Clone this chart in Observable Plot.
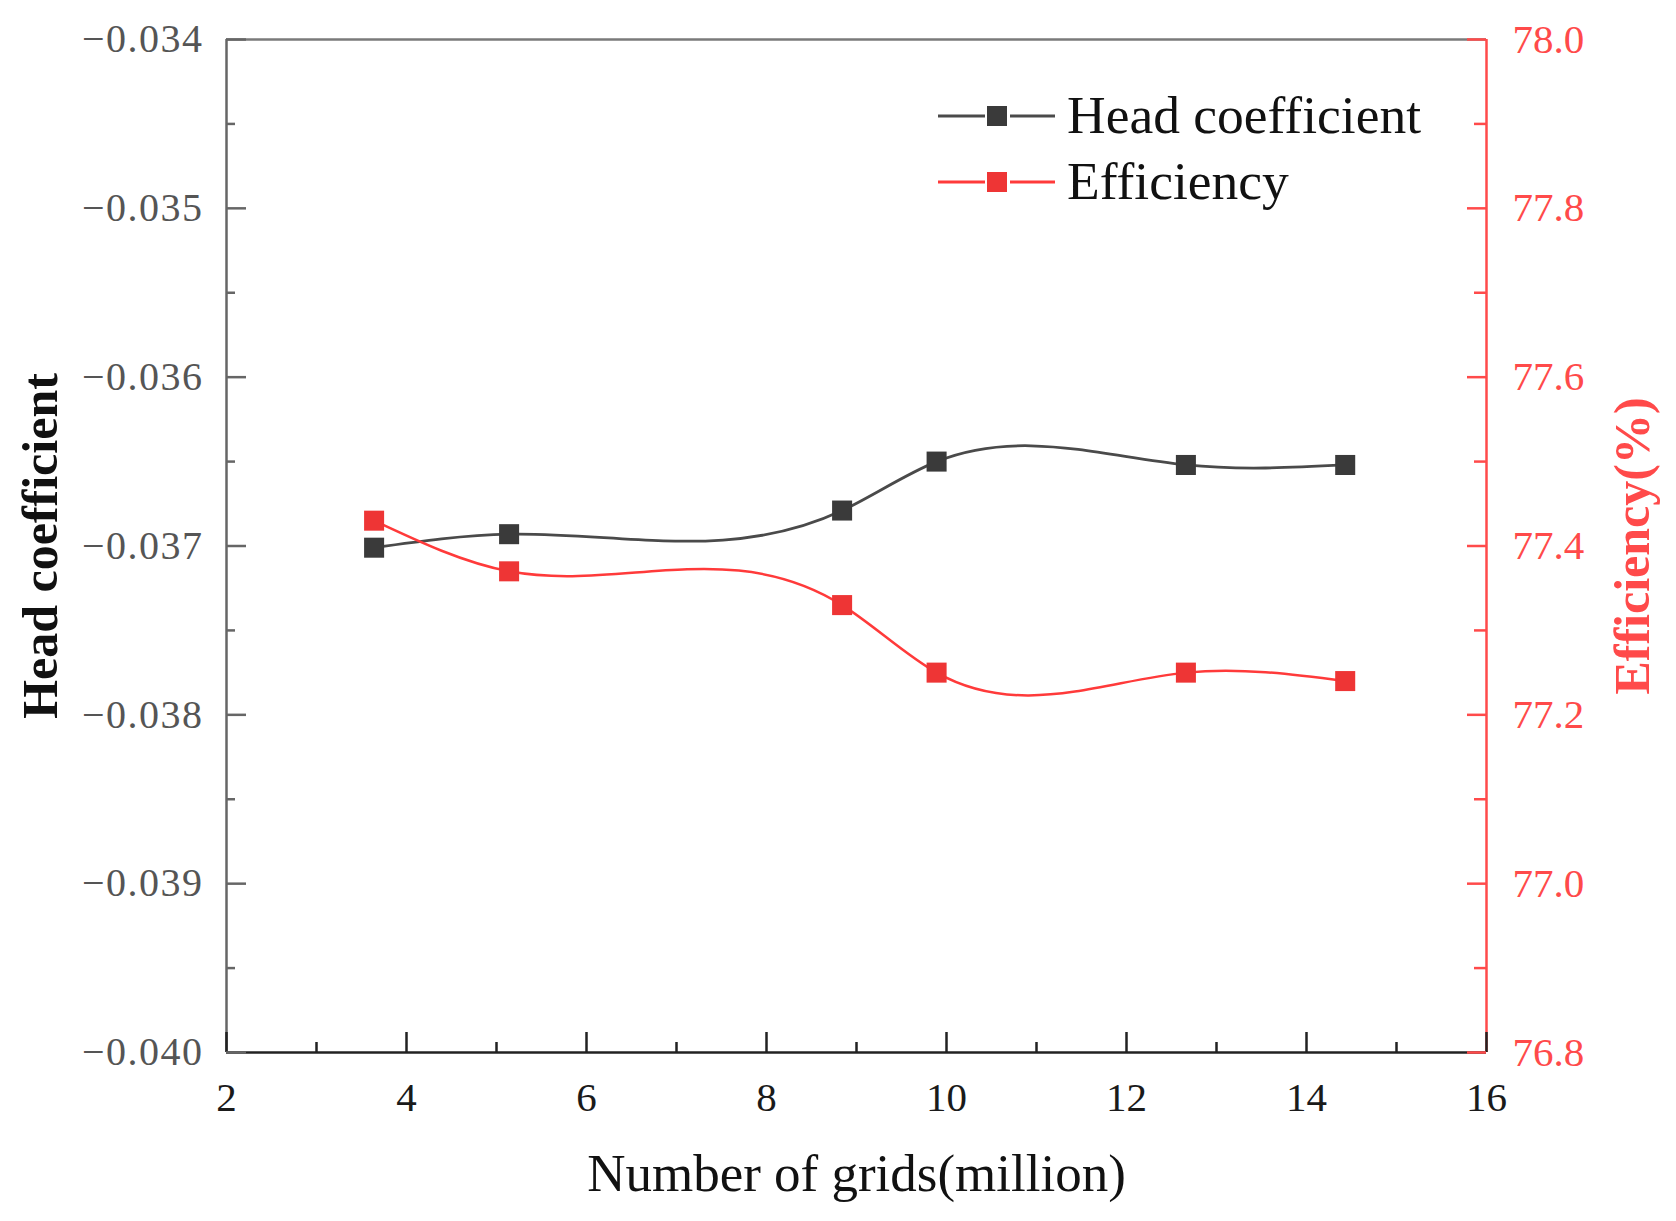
<!DOCTYPE html>
<html><head><meta charset="utf-8">
<script src="https://cdn.jsdelivr.net/npm/d3@7"></script>
<script src="https://cdn.jsdelivr.net/npm/@observablehq/plot@0.6"></script>
<style>
html,body{margin:0;padding:0;background:#fff;}
#wrap{position:relative;width:1676px;height:1221px;}
#legend{position:absolute;left:0;top:0;pointer-events:none;}
</style></head><body><div id="wrap"></div>
<script>
// ---- data ----
const grids = [3.64, 5.14, 8.84, 9.89, 12.66, 14.43];
const headCoef = [-0.03701, -0.03693, -0.03679, -0.03650, -0.03652, -0.03652];
const efficiency = [77.43, 77.37, 77.33, 77.25, 77.25, 77.24];
const seriesNames = ["Head coefficient", "Efficiency"];
const xMajorTicks = [2, 4, 6, 8, 10, 12, 14, 16];
const xMinorTicks = [3, 5, 7, 9, 11, 13, 15];
const headMajorTicks = [-0.040, -0.039, -0.038, -0.037, -0.036, -0.035, -0.034];
const headMinorTicks = [-0.0395, -0.0385, -0.0375, -0.0365, -0.0355, -0.0345];
const effMajorTicks = [76.8, 77.0, 77.2, 77.4, 77.6, 77.8, 78.0];
const effMinorTicks = [76.9, 77.1, 77.3, 77.5, 77.7, 77.9];
const xDomain = [2, 16];
const headDomain = [-0.040, -0.034];
const effDomain = [76.8, 78.0];
const xTitle = "Number of grids(million)";
const yTitle = "Head coefficient";
const y2Title = "Efficiency(%)";

// ---- styles ----
const W = 1676, H = 1221;
const mL = 226, mR = 190, mT = 39, mB = 169;
const innerW = W - mL - mR, innerH = H - mT - mB;
const FONT = "'Liberation Serif', 'Times New Roman', serif";
const BLACK_LINE = "#4a4a4a", BLACK_MARK = "#3a3a3a";
const RED_LINE = "#ff3a3a", RED_MARK = "#ee3535", RED_AXIS = "#ff4a4a";
const GRAY_AXIS = "#666";
const LEFT_LABEL = "#555";

// natural cubic spline y(x) curve (Origin-style "Spline" connector)
function curveSplineX(context) {
  let xs = [], ys = [];
  return {
    areaStart() {}, areaEnd() {},
    lineStart() { xs = []; ys = []; },
    point(x, y) { xs.push(+x); ys.push(+y); },
    lineEnd() {
      const n = xs.length;
      if (!n) return;
      context.moveTo(xs[0], ys[0]);
      if (n === 1) return;
      if (n === 2) { context.lineTo(xs[1], ys[1]); return; }
      const h = [];
      for (let i = 0; i < n - 1; i++) h.push(xs[i + 1] - xs[i]);
      const a = [], b = [], c = [], r = [];
      for (let i = 1; i < n - 1; i++) {
        a.push(h[i - 1]); b.push(2 * (h[i - 1] + h[i])); c.push(h[i]);
        r.push(6 * ((ys[i + 1] - ys[i]) / h[i] - (ys[i] - ys[i - 1]) / h[i - 1]));
      }
      const m = n - 2;
      for (let i = 1; i < m; i++) {
        const w = a[i] / b[i - 1];
        b[i] -= w * c[i - 1];
        r[i] -= w * r[i - 1];
      }
      const Mi = new Array(m);
      Mi[m - 1] = r[m - 1] / b[m - 1];
      for (let i = m - 2; i >= 0; i--) Mi[i] = (r[i] - c[i] * Mi[i + 1]) / b[i];
      const M = [0, ...Mi, 0];
      for (let i = 0; i < n - 1; i++) {
        const hi = h[i], s = (ys[i + 1] - ys[i]) / hi;
        const d0 = s - hi * (2 * M[i] + M[i + 1]) / 6;
        const d1 = s + hi * (M[i] + 2 * M[i + 1]) / 6;
        context.bezierCurveTo(xs[i] + hi / 3, ys[i] + hi * d0 / 3, xs[i + 1] - hi / 3, ys[i + 1] - hi * d1 / 3, xs[i + 1], ys[i + 1]);
      }
    }
  };
}

const toLeft = d3.scaleLinear(effDomain, headDomain);
const headData = grids.map((g, i) => ({g, v: headCoef[i]}));
const effData = grids.map((g, i) => ({g, v: toLeft(efficiency[i])}));

const chart = Plot.plot({
  width: W, height: H,
  marginLeft: mL, marginRight: mR, marginTop: mT, marginBottom: mB,
  style: {fontFamily: FONT, background: "#fff"},
  x: {domain: xDomain, axis: null},
  y: {domain: headDomain, axis: null},
  marks: [
    // frame
    Plot.ruleY([headDomain[1]], {stroke: "#7a7a7a", strokeWidth: 2.5}),
    Plot.ruleX([xDomain[0]], {stroke: GRAY_AXIS, strokeWidth: 2.5}),
    Plot.ruleX([xDomain[1]], {stroke: RED_AXIS, strokeWidth: 2.5}),
    Plot.ruleY([headDomain[0]], {stroke: "#222", strokeWidth: 2.5}),
    // inward ticks
    Plot.tickX(xMajorTicks, {x: d => d, insetTop: innerH - 20, stroke: "#222", strokeWidth: 2.5}),
    Plot.tickX(xMinorTicks, {x: d => d, insetTop: innerH - 10, stroke: "#222", strokeWidth: 2.5}),
    Plot.tickY(headMajorTicks, {y: d => d, insetRight: innerW - 20, stroke: GRAY_AXIS, strokeWidth: 2.5}),
    Plot.tickY(headMinorTicks, {y: d => d, insetRight: innerW - 9, stroke: GRAY_AXIS, strokeWidth: 2.5}),
    Plot.tickY(effMajorTicks.map(toLeft), {y: d => d, insetLeft: innerW - 19, stroke: RED_AXIS, strokeWidth: 2.5}),
    Plot.tickY(effMinorTicks.map(toLeft), {y: d => d, insetLeft: innerW - 12, stroke: RED_AXIS, strokeWidth: 2.5}),
    // tick labels
    Plot.axisX({ticks: xMajorTicks, tickSize: 0, tickPadding: 29, fontSize: 41, fill: "#1a1a1a", label: null, tickFormat: d => String(d)}),
    Plot.axisY({ticks: headMajorTicks, anchor: "left", tickSize: 0, tickPadding: 23, fontSize: 40, fill: LEFT_LABEL, label: null, tickFormat: d3.format(".3f")}),
    Plot.axisY({ticks: effMajorTicks.map(toLeft), anchor: "right", tickSize: 0, tickPadding: 26, fontSize: 41, fill: RED_AXIS, label: null, tickFormat: d => toLeft.invert(d).toFixed(1)}),
    // titles
    Plot.text([yTitle], {frameAnchor: "left", rotate: -90, dx: -186, fontSize: 50, fontWeight: "bold", fill: "#111", textAnchor: "middle", lineAnchor: "middle"}),
    Plot.text([y2Title], {frameAnchor: "right", rotate: -90, dx: 146, fontSize: 50, fontWeight: "bold", fill: RED_AXIS, textAnchor: "middle", lineAnchor: "middle"}),
    Plot.text([xTitle], {frameAnchor: "bottom", dx: 0, dy: 122, fontSize: 53, fill: "#111", textAnchor: "middle", lineAnchor: "middle"}),
    // series
    Plot.line(headData, {x: "g", y: "v", curve: curveSplineX, stroke: BLACK_LINE, strokeWidth: 2.8}),
    Plot.line(effData, {x: "g", y: "v", curve: curveSplineX, stroke: RED_LINE, strokeWidth: 2.5}),
    Plot.dot(headData, {x: "g", y: "v", symbol: "square", r: 11.3, fill: BLACK_MARK, stroke: "none"}),
    Plot.dot(effData, {x: "g", y: "v", symbol: "square", r: 11.3, fill: RED_MARK, stroke: "none"})
  ]
});

// slightly wider spacing for the left tick labels, as in the original
d3.select(chart).selectAll('g[aria-label="y-axis tick label"]')
  .filter(function () { return this.getAttribute("fill") === LEFT_LABEL; })
  .attr("letter-spacing", "1.5px");

const wrap = document.getElementById("wrap");
wrap.appendChild(chart);

// legend overlay
const legendItems = [
  {name: seriesNames[0], line: BLACK_LINE, mark: BLACK_MARK},
  {name: seriesNames[1], line: RED_LINE, mark: RED_MARK}
];
const lg = d3.select(wrap).append("svg").attr("id", "legend").attr("width", W).attr("height", H);
const rowY = [116, 182];
legendItems.forEach((it, i) => {
  const g = lg.append("g").attr("transform", `translate(0,${rowY[i]})`);
  g.append("line").attr("x1", 938).attr("x2", 985).attr("y1", 0).attr("y2", 0).attr("stroke", it.line).attr("stroke-width", 2.8);
  g.append("line").attr("x1", 1010).attr("x2", 1055).attr("y1", 0).attr("y2", 0).attr("stroke", it.line).attr("stroke-width", 2.8);
  g.append("rect").attr("x", 987).attr("y", -10).attr("width", 20).attr("height", 20).attr("fill", it.mark);
  g.append("text").attr("x", 1067).attr("y", 17).attr("font-family", FONT).attr("font-size", 53.5).attr("fill", "#111").text(it.name);
});
</script></body></html>
